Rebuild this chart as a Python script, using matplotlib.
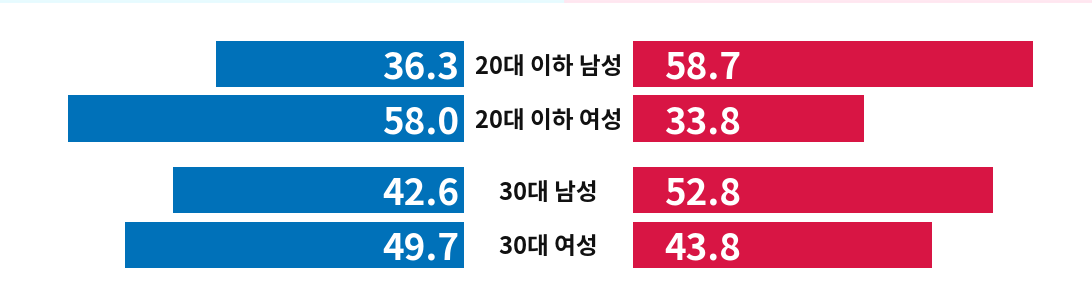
import matplotlib.pyplot as plt

plt.rcParams['font.family'] = ['Noto Sans CJK KR', 'DejaVu Sans']

groups = ['20대 이하 남성', '20대 이하 여성', '30대 남성', '30대 여성']
left_vals = [36.3, 58.0, 42.6, 49.7]
right_vals = [58.7, 33.8, 52.8, 43.8]

blue = '#0071B9'
red = '#D81544'

W, H = 1092, 304
fig = plt.figure(figsize=(W / 100, H / 100), dpi=100)

# layout in pixels
px_per_unit = 6.82
left_end = 464
right_start = 633
y_pos = [64, 118.5, 190, 245]
bar_h = 46.5

axl = fig.add_axes([0, 0, left_end / W, 1])
axr = fig.add_axes([right_start / W, 0, (W - right_start) / W, 1])

axl.set_xlim(left_end / px_per_unit, 0)
axr.set_xlim(0, (W - right_start) / px_per_unit)
for ax in (axl, axr):
    ax.set_ylim(H, 0)
    ax.axis('off')

axl.barh(y_pos, left_vals, height=bar_h, color=blue)
axr.barh(y_pos, right_vals, height=bar_h, color=red)

for y, lv, rv, g in zip(y_pos, left_vals, right_vals, groups):
    axl.text(5 / px_per_unit, y, f'{lv:.1f}', ha='right', va='center_baseline',
             color='white', fontsize=26.5, fontweight='heavy')
    axr.text(31 / px_per_unit, y, f'{rv:.1f}', ha='left', va='center_baseline',
             color='white', fontsize=26.5, fontweight='heavy')
    fig.text((left_end + right_start) / 2 / W, 1 - y / H, g, ha='center',
             va='center_baseline', color='#111111', fontsize=17, fontweight='heavy')

# faint strip at the very top
fig.add_artist(plt.Line2D([0, 565 / W], [0.997, 0.997], color='#e6fbff', lw=2))
fig.add_artist(plt.Line2D([565 / W, 1], [0.997, 0.997], color='#ffe6f0', lw=2))

fig.savefig('out.png', dpi=100)
